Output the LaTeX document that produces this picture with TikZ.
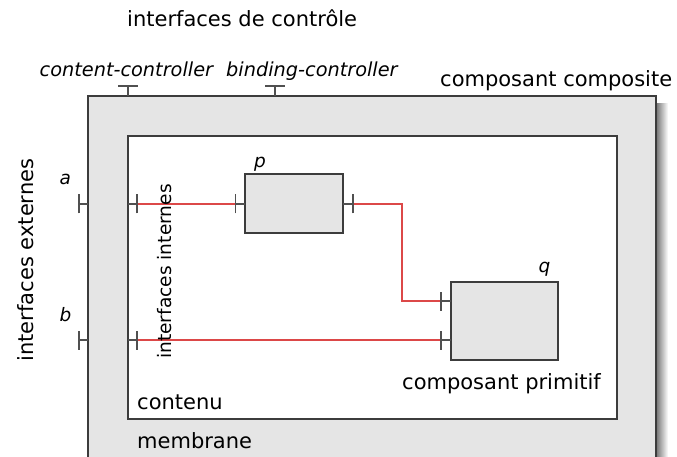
\documentclass[tikz,border=0pt]{standalone}
\usepackage{fontspec}
\setmainfont{DejaVu Sans}
\definecolor{fillgray}{HTML}{E5E5E5}
\definecolor{linegray}{HTML}{3C3C3C}
\definecolor{tickgray}{HTML}{505050}
\definecolor{wire}{HTML}{DC4848}
\begin{document}
\begin{tikzpicture}[x=1pt,y=-1pt,
  boxnode/.style={draw=linegray, line width=1.1pt, inner sep=0pt, outer sep=0pt, anchor=north west},
  stub/.style={draw=tickgray, line width=1.1pt},
  tick/.style={draw=tickgray, line width=1.1pt},
  wireline/.style={draw=wire, line width=1.2pt},
  bigtext/.style={font=\fontsize{21}{23}\selectfont, inner sep=0pt, anchor=base west},
  ittext/.style={font=\fontsize{19.3}{21}\selectfont\itshape, inner sep=0pt, anchor=base west},
  lettertext/.style={font=\fontsize{18.5}{20}\selectfont\itshape, inner sep=0pt, anchor=base west}]
\useasboundingbox (0,0) rectangle (677,457);
\clip (0,0) rectangle (677,457);
% shadow of composite
\shade[left color=black!55, right color=white] (656,104) rectangle (668,470);
% boxes
\node[boxnode, fill=fillgray, minimum width=568pt, minimum height=390pt] (composite) at (88,96) {};
\node[boxnode, fill=white, minimum width=489pt, minimum height=283pt] (contenu) at (128,136) {};
\node[boxnode, fill=fillgray, minimum width=98pt, minimum height=59pt] (p) at (245,174) {};
\node[boxnode, fill=fillgray, minimum width=107pt, minimum height=78pt] (q) at (451,282) {};
% interface coordinates
\coordinate (aext) at (79,204);
\coordinate (bext) at (79,340);
\coordinate (aint) at (137,204);
\coordinate (bint) at (137,340);
\coordinate (pin) at (235.5,204);
\coordinate (pout) at (353,204);
\coordinate (qina) at (441,301);
\coordinate (qinb) at (441,340);
\coordinate (cc) at (128,86);
\coordinate (bc) at (275,86);
\coordinate (bend) at (402,204);
% wires
\draw[wireline] (aint) -- (pin);
\draw[wireline] (pout) -- (bend) |- (qina);
\draw[wireline] (bint) -- (qinb);
% stubs
\draw[stub] (aext) -- (aext -| composite.west);
\draw[stub] (bext) -- (bext -| composite.west);
\draw[stub] (aint -| contenu.west) -- (aint);
\draw[stub] (bint -| contenu.west) -- (bint);
\draw[stub] (pin) -- (pin -| p.west);
\draw[stub] (p.east |- pout) -- (pout);
\draw[stub] (qina) -- (qina -| q.west);
\draw[stub] (qinb) -- (qinb -| q.west);
\draw[stub] (cc) -- (cc |- composite.north);
\draw[stub] (bc) -- (bc |- composite.north);
% ticks
\foreach \c in {aext,bext,aint,bint,pin,pout,qina,qinb}
  \draw[tick] ([yshift=-9.5pt]\c) -- ([yshift=9.5pt]\c);
\foreach \c in {cc,bc}
  \draw[tick] ([xshift=-10pt]\c) -- ([xshift=10pt]\c);
% texts
\node[bigtext] (tctrl) at (127,27) {interfaces de contrôle};
\node[ittext] (tcc) at (39.5,77) {content-controller};
\node[ittext] (tbc) at (226,77) {binding-controller};
\node[bigtext] (tcomp) at (440,87) {composant composite};
\node[bigtext, anchor=base, rotate=90] (text) at (33,260) {interfaces externes};
\node[font=\fontsize{18.6}{20}\selectfont, inner sep=0pt, anchor=base, rotate=90] (tint) at (171.5,271.5) {interfaces internes};
\node[lettertext] (ta) at (59.5,184.5) {a};
\node[lettertext] (tb) at (59.5,321) {b};
\node[lettertext] (tp) at (254,167.5) {p};
\node[lettertext] (tq) at (538.5,272.5) {q};
\node[bigtext] (tcontenu) at (137,409) {contenu};
\node[bigtext] (tmemb) at (137,448) {membrane};
\node[bigtext] (tprim) at (402,389) {composant primitif};
\end{tikzpicture}
\end{document}
